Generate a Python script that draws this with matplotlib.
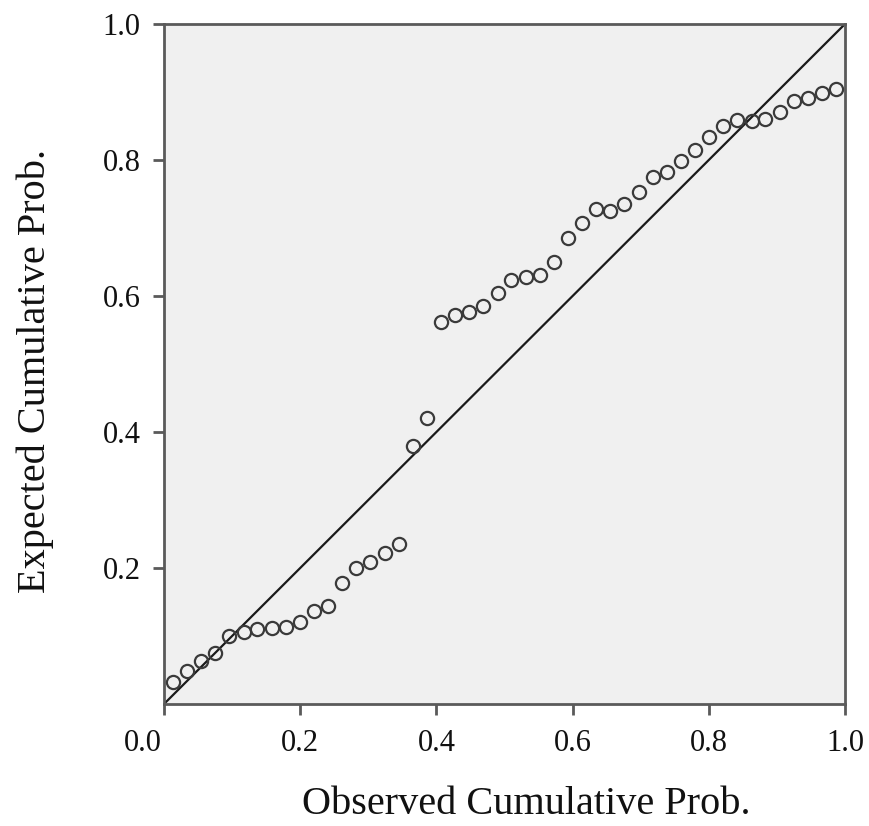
import matplotlib
matplotlib.use("Agg")
import matplotlib.pyplot as plt
import matplotlib.transforms as mtransforms

observed = [0.013, 0.034, 0.054, 0.075, 0.096, 0.117, 0.137, 0.158, 0.179, 0.199,
            0.220, 0.241, 0.262, 0.282, 0.303, 0.324, 0.345, 0.365, 0.386, 0.407,
            0.427, 0.448, 0.469, 0.490, 0.510, 0.531, 0.552, 0.572, 0.593, 0.614,
            0.635, 0.655, 0.676, 0.697, 0.718, 0.738, 0.759, 0.780, 0.801, 0.821,
            0.842, 0.863, 0.883, 0.904, 0.925, 0.946, 0.966, 0.987]
expected = [0.032, 0.049, 0.063, 0.075, 0.100, 0.106, 0.110, 0.112, 0.113, 0.121,
            0.137, 0.144, 0.178, 0.200, 0.209, 0.222, 0.236, 0.380, 0.421, 0.562,
            0.572, 0.576, 0.585, 0.605, 0.624, 0.628, 0.631, 0.650, 0.686, 0.707,
            0.728, 0.725, 0.736, 0.753, 0.775, 0.782, 0.799, 0.815, 0.834, 0.850,
            0.859, 0.858, 0.861, 0.871, 0.887, 0.891, 0.899, 0.905]
xticks = [0.0, 0.2, 0.4, 0.6, 0.8, 1.0]
yticks = [0.2, 0.4, 0.6, 0.8, 1.0]

plt.rcParams['font.family'] = ['Liberation Serif', 'DejaVu Serif']

fig = plt.figure(figsize=(8.70, 8.26), dpi=100)
ax = fig.add_axes([164/870, 1 - 704/826, 681/870, 680/826])
ax.set_facecolor('#f0f0f0')

ax.plot([0, 1], [0, 1], color='#1a1a1a', lw=1.6, zorder=2)
ax.plot(observed, expected, linestyle='none', marker='o', markersize=9.5,
        markerfacecolor='none', markeredgecolor='#3a3a3a', markeredgewidth=1.6, zorder=3)

ax.set_xlim(0, 1)
ax.set_ylim(0, 1)
ax.set_xticks(xticks)
ax.set_xticklabels([f"{t:.1f}" for t in xticks])
ax.set_yticks(yticks)
ax.set_yticklabels([f"{t:.1f}" for t in yticks])

for s in ax.spines.values():
    s.set_color('#5a5a5a')
    s.set_linewidth(2.0)

ax.tick_params(axis='both', direction='out', length=8, width=2.0, color='#5a5a5a',
               labelsize=22, labelcolor='#111111')
ax.tick_params(axis='x', pad=10)
ax.tick_params(axis='y', pad=9)

# shift the "0.0" x tick label slightly left, as in the reference
lbl0 = ax.get_xticklabels()[0]
lbl0.set_transform(lbl0.get_transform() + mtransforms.ScaledTranslation(-21/100, 0, fig.dpi_scale_trans))

ax.set_xlabel('Observed Cumulative Prob.', fontsize=29, color='#111111', labelpad=20)
ax.set_ylabel('Expected Cumulative Prob.', fontsize=29, color='#111111', labelpad=35)
ax.xaxis.label.set_x(0.532)
ax.yaxis.label.set_y(0.49)

fig.savefig('out.png', dpi=100)
